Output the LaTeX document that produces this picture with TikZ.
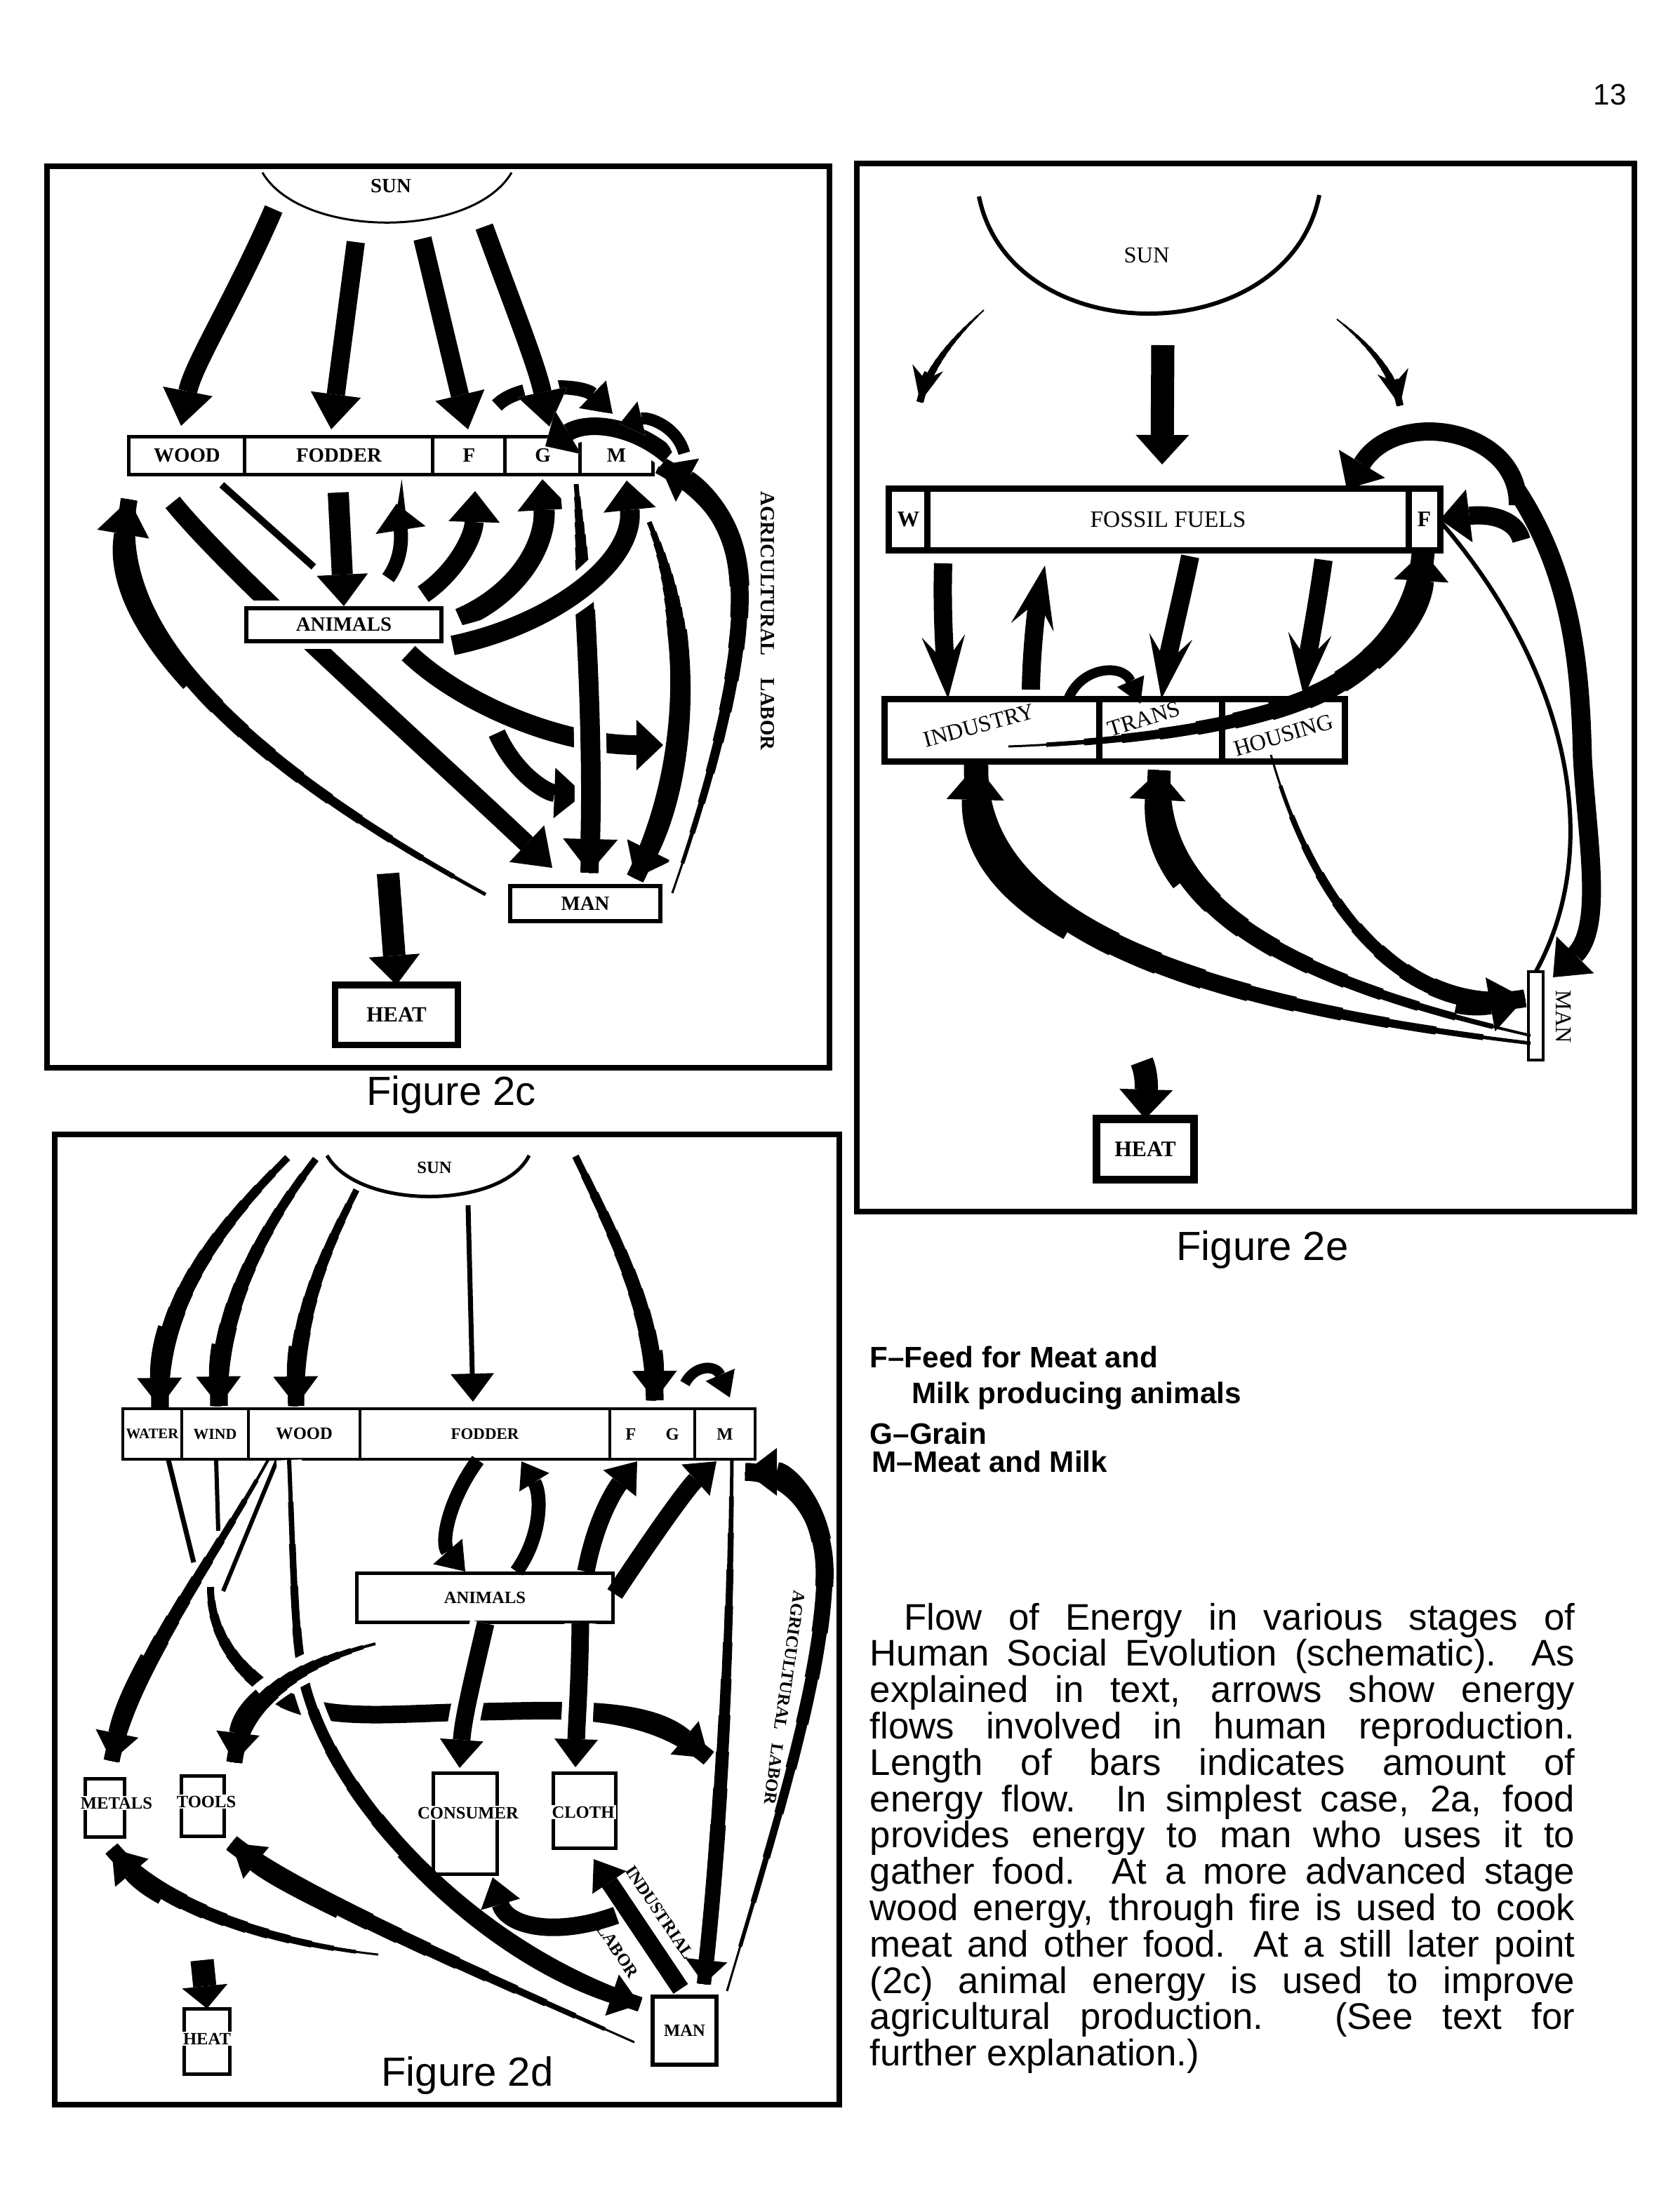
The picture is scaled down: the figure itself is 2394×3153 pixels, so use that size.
\documentclass[tikz,border=0pt]{standalone}
\usepackage{fontspec}
\setmainfont{Liberation Serif}
\newfontfamily\sansf{Liberation Sans}
\usetikzlibrary{arrows.meta}
\tikzset{
  fr/.style={draw, line width=0.08cm},
  cell/.style={draw, line width=0.05cm, inner sep=0pt, outer sep=0pt, fill=white},
  Lc/.style={font=\bfseries\fontsize{8.2}{9}\selectfont},
  Ld/.style={font=\bfseries\fontsize{7}{8}\selectfont},
  Le/.style={font=\fontsize{9.2}{10}\selectfont},
  tri/.style n args={3}{line width=#1, -{Triangle[width=#2,length=#3,line width=0pt]}},
  harps/.style={line width=#1, -{Stealth[width=0.45cm,length=0.5cm,inset=0.17cm,line width=0pt]}},
  harpb/.style={line width=#1, -{Stealth[width=0.62cm,length=0.9cm,inset=0.38cm,line width=0pt]}},
  tp/.style={dash pattern=on 0pt off #1 on 300cm},
  halo/.style={preaction={draw=white, line width=#1}},
}
% tapered stroke: #1 path macro, #2 start width, #3 end width (cm), #4 length of taper (cm), #5 tip style
\newcommand\taper[5]{%
  \foreach \ti in {0,...,9}{%
    \pgfmathsetmacro\tpw{#2+(#3-#2)*\ti/10}%
    \pgfmathsetmacro\tpo{#4*\ti/10}%
    \draw[line width=\tpw cm, tp=\tpo cm] #1;%
  }%
  \draw[#5, tp=#4cm] #1;%
}
% same with a white halo laid first (#6 = halo width)
\newcommand\taperh[6]{%
  \draw[white, line width=#6, shorten >=0.35cm] #1;%
  \taper{#1}{#2}{#3}{#4}{#5}%
}
\begin{document}
\begin{tikzpicture}[x=0.01cm,y=-0.01cm]
\useasboundingbox (0,0) rectangle (2394,3153);
\fill[white] (0,0) rectangle (2394,3153);
\node[font=\sansf\fontsize{12}{14}\selectfont] (pgnum) at (2294,135) {13};

% ================= FIGURE 2c =================
\draw[fr] (67,237) rectangle (1182,1522);
\draw[line width=0.03cm] (374,246) .. controls (430,341) and (673,341) .. (729,246);
\node[Lc] (sunc) at (557,265) {SUN};
\coordinate (c1s) at (390,298); \coordinate (c1e) at (258,607);
\coordinate (c2s) at (507,345); \coordinate (c2e) at (472,612);
\coordinate (c3s) at (602,340); \coordinate (c3e) at (667,612);
\coordinate (c4s) at (690,323); \coordinate (c4e) at (783,608);
\coordinate (c5s) at (708,578); \coordinate (c5e) at (873,590);
\draw[tri={0.2cm}{0.55cm}{0.4cm}] (c5s) .. controls (740,545) and (830,548) .. (c5e);
\draw[tri={0.27cm}{0.72cm}{0.5cm}] (c1s) .. controls (335,425) and (275,520) .. (c1e);
\draw[tri={0.26cm}{0.72cm}{0.5cm}] (c2s) -- (c2e);
\draw[tri={0.26cm}{0.72cm}{0.5cm}] (c3s) -- (c3e);
\draw[tri={0.26cm}{0.72cm}{0.5cm}, halo=0.5cm] (c4s) .. controls (725,420) and (765,520) .. (c4e);

\node[cell, minimum width=1.65cm, minimum height=0.54cm, Lc] (woodc) at (266.5,649) {WOOD};
\node[cell, minimum width=2.68cm, minimum height=0.54cm, Lc] (fodderc) at (483,649) {FODDER};
\node[cell, minimum width=1.03cm, minimum height=0.54cm, Lc] (fc) at (668.5,649) {F\hspace{0.1cm}};
\node[cell, minimum width=1.07cm, minimum height=0.54cm, Lc] (gc) at (773.5,649) {G\hspace{0.35cm}};
\node[cell, minimum width=1.03cm, minimum height=0.54cm, Lc] (mc) at (878.5,649) {\raisebox{-0.07cm}{M}\hspace{0.12cm}};

% wood -> man (behind animals)
\coordinate (c6s) at (246,716); \coordinate (c6e) at (787,1237);
\draw[tri={0.26cm}{0.72cm}{0.5cm}] (c6s) .. controls (330,820) and (600,1060) .. (c6e);
\coordinate (c7s) at (316,691); \coordinate (c7e) at (447,808);
\draw[line width=0.1cm] (c7s) -- (c7e);
\node[cell, line width=0.06cm, minimum width=2.78cm, minimum height=0.47cm, Lc, preaction={draw=white,line width=0.22cm}] (animc) at (490,890.5) {ANIMALS};

\coordinate (c8s) at (482,702); \coordinate (c8e) at (490,864);
\draw[tri={0.3cm}{0.73cm}{0.45cm}] (c8s) -- (c8e);
\coordinate (c9s) at (553,824); \coordinate (c9e) at (565,718);
\draw[tri={0.2cm}{0.72cm}{0.38cm}] (c9s) .. controls (578,790) and (570,750) .. (c9e);
\coordinate (c10s) at (603,847); \coordinate (c10e) at (677,700);
\draw[tri={0.27cm}{0.73cm}{0.44cm}] (c10s) .. controls (650,815) and (675,765) .. (c10e);
\coordinate (c11s) at (655,882); \coordinate (c11e) at (773,683);
\draw[tri={0.3cm}{0.76cm}{0.44cm}] (c11s) .. controls (740,845) and (778,775) .. (c11e);
% animals -> right
\coordinate (c15s) at (582,931); \coordinate (c15e) at (945,1062);
\draw[tri={0.28cm}{0.72cm}{0.38cm}] (c15s) .. controls (660,1005) and (800,1062) .. (c15e);
% small curved arrow
\coordinate (c16s) at (708,1045); \coordinate (c16e) at (832,1132);
\draw[tri={0.25cm}{0.72cm}{0.42cm}] (c16s) .. controls (735,1105) and (780,1130) .. (c16e);
% G -> MAN
\coordinate (c13s) at (821,690); \coordinate (c13e) at (840,1244);
\def\pcG{(c13s) .. controls (835,850) and (845,1050) .. (c13e)}
\taperh{\pcG}{0.07}{0.28}{1.8}{tri={0.28cm}{0.78cm}{0.48cm}}{0.46cm}
% animals -> M
\coordinate (c12s) at (645,920); \coordinate (c12e) at (893,685);
\draw[tri={0.28cm}{0.75cm}{0.42cm}, halo=0.5cm] (c12s) .. controls (790,890) and (905,800) .. (c12e);
% M -> MAN
\coordinate (c14s) at (925,744); \coordinate (c14e) at (905,1252);
\def\pcM{(c14s) .. controls (990,900) and (980,1100) .. (c14e)}
\taper{\pcM}{0.07}{0.28}{1.6}{tri={0.28cm}{0.7cm}{0.45cm}}
% MAN -> WOOD
\coordinate (c20s) at (692,1275); \coordinate (c20e) at (184,712);
\def\pcA{(c20s) .. controls (300,1060) and (155,880) .. (c20e)}
\taper{\pcA}{0.05}{0.26}{5.2}{tri={0.26cm}{0.75cm}{0.5cm}}
% agricultural labor
\coordinate (c21s) at (958,1273); \coordinate (c21e) at (940,663);
\def\pcB{(c21s) .. controls (1025,1080) and (1068,900) .. (1050,800) .. controls (1038,730) and (990,690) .. (c21e)}
\taperh{\pcB}{0.03}{0.28}{4.5}{tri={0.28cm}{0.7cm}{0.45cm}}{0.38cm}
% M -> G over the bar
\coordinate (c17s) at (953,650); \coordinate (c17e) at (777,636);
\draw[tri={0.25cm}{0.72cm}{0.38cm}, halo=0.4cm] (c17s) .. controls (905,608) and (840,598) .. (c17e);
\coordinate (c18s) at (975,646); \coordinate (c18e) at (883,604);
\draw[tri={0.17cm}{0.5cm}{0.32cm}, halo=0.32cm] (c18s) .. controls (965,608) and (925,594) .. (c18e);

\node[cell, line width=0.06cm, minimum width=2.14cm, minimum height=0.5cm, Lc] (manc) at (834,1288) {MAN};
\coordinate (c19s) at (553,1245);
\node[cell, line width=0.09cm, minimum width=1.74cm, minimum height=0.85cm, font=\bfseries\fontsize{8.8}{10}\selectfont] (heatc) at (565,1446.5) {HEAT};
\draw[tri={0.32cm}{0.73cm}{0.42cm}] (c19s) -- (heatc.north);
\node[Lc, rotate=-90] (aglc) at (1094,885) {AGRICULTURAL\hspace{1.1em}LABOR};
\node[font=\sansf\fontsize{16.5}{18}\selectfont] (capc) at (643,1560) {Figure 2c};

% ================= FIGURE 2e =================
\draw[fr] (1221,233) rectangle (2329,1727);
\draw[line width=0.06cm] (1395,280) .. controls (1440,503) and (1835,503) .. (1880,278);
\node[Le] (sune) at (1634,364) {SUN};
\coordinate (e1s) at (1402,442); \coordinate (e1e) at (1311,573);
\def\peL{(e1s) .. controls (1360,480) and (1322,525) .. (e1e)}
\taper{\peL}{0.02}{0.11}{1.2}{harps={0.11cm}}
\coordinate (e2s) at (1905,455); \coordinate (e2e) at (1995,578);
\def\peR{(e2s) .. controls (1950,490) and (1985,530) .. (e2e)}
\taper{\peR}{0.02}{0.11}{1.2}{harps={0.11cm}}
\coordinate (e3s) at (1657,492);

\node[cell, line width=0.09cm, minimum width=0.55cm, minimum height=0.87cm, font=\bfseries\fontsize{9}{10}\selectfont] (we) at (1294.5,740.5) {W};
\node[cell, line width=0.09cm, minimum width=6.85cm, minimum height=0.87cm, font=\fontsize{9.5}{10}\selectfont] (ffe) at (1664.5,740.5) {FOSSIL FUELS\hspace{0.54cm}};
\node[cell, line width=0.09cm, minimum width=0.45cm, minimum height=0.87cm, font=\bfseries\fontsize{9}{10}\selectfont] (fe) at (2029.5,740.5) {F};
\draw[tri={0.33cm}{0.76cm}{0.42cm}] (e3s) -- (1656,662);

\node[cell, line width=0.09cm, minimum width=3.06cm, minimum height=0.88cm] (inde) at (1414,1041) {};
\node[cell, line width=0.09cm, minimum width=1.75cm, minimum height=0.88cm] (trae) at (1654.5,1041) {};
\node[cell, line width=0.09cm, minimum width=1.74cm, minimum height=0.88cm] (houe) at (1829,1041) {};

\coordinate (f1s) at (1344,803); \coordinate (f1e) at (1351,996);
\draw[harpb={0.26cm}] (f1s) .. controls (1342,870) and (1346,930) .. (f1e);
\coordinate (f2s) at (1469,983); \coordinate (f2e) at (1489,806);
\draw[harpb={0.26cm}] (f2s) .. controls (1470,920) and (1478,860) .. (f2e);
\coordinate (f3s) at (1696,793); \coordinate (f3e) at (1655,996);
\draw[harpb={0.26cm}] (f3s) .. controls (1682,860) and (1665,930) .. (f3e);
\coordinate (f4s) at (1886,798); \coordinate (f4e) at (1858,993);
\draw[harpb={0.26cm}] (f4s) .. controls (1876,870) and (1864,930) .. (f4e);
\coordinate (f5s) at (1522,997); \coordinate (f5e) at (1625,1003);
\draw[tri={0.14cm}{0.42cm}{0.35cm}] (f5s) .. controls (1540,950) and (1600,945) .. (f5e);
% industry -> F (thin to thick)
\coordinate (f6s) at (1437,1064); \coordinate (f6e) at (2028,786);
\def\peA{(f6s) .. controls (1600,1058) and (1780,1036) .. (1880,988) .. controls (1960,950) and (2022,880) .. (f6e)}
\taper{\peA}{0.03}{0.36}{5.4}{tri={0.36cm}{0.78cm}{0.42cm}}
\node[Le, rotate=15] (indl) at (1395,1034) {INDUSTRY};
\node[Le, rotate=17] (tral) at (1630,1025) {TRANS};
\node[Le, rotate=16.5] (houl) at (1829,1048) {HOUSING};

\node[cell, line width=0.04cm, minimum width=0.21cm, minimum height=1.26cm] (mane) at (2188.5,1448) {};
\node[Le, rotate=-90] (manel) at (2228,1449) {MAN};
% MAN -> INDUSTRY
\coordinate (f7s) at (2181,1487); \coordinate (f7e) at (1391,1090);
\def\peB{(f7s) .. controls (1700,1430) and (1385,1320) .. (f7e)}
\taper{\peB}{0.05}{0.38}{6.8}{tri={0.38cm}{0.82cm}{0.5cm}}
% MAN -> TRANS
\coordinate (f8s) at (2181,1476); \coordinate (f8e) at (1652,1098);
\def\peC{(f8s) .. controls (1850,1400) and (1640,1300) .. (f8e)}
\taper{\peC}{0.04}{0.36}{5.5}{tri={0.36cm}{0.8cm}{0.42cm}}
% HOUSING -> MAN
\coordinate (f9s) at (1811,1076); \coordinate (f9e) at (2173,1423);
\def\peD{(f9s) .. controls (1880,1320) and (2020,1450) .. (f9e)}
\taper{\peD}{0.03}{0.28}{4.6}{tri={0.28cm}{0.78cm}{0.5cm}}
% F <-> MAN group
\coordinate (f10s) at (2162,700); \coordinate (f10e) at (2213,1393);
\draw[tri={0.27cm}{0.75cm}{0.45cm}] (f10s) .. controls (2240,820) and (2252,950) .. (2255,1080) .. controls (2262,1200) and (2285,1320) .. (f10e);
\coordinate (f11s) at (2168,770);
\draw[tri={0.26cm}{0.76cm}{0.42cm}] (f11s) .. controls (2160,738) and (2120,732) .. (fe.east);
\coordinate (f12s) at (2163,720); \coordinate (f12e) at (1919,697);
\draw[tri={0.26cm}{0.77cm}{0.42cm}] (f12s) .. controls (2165,610) and (1990,580) .. (f12e);
\coordinate (f13s) at (2054,745);
\draw[line width=0.06cm] (f13s) .. controls (2230,950) and (2290,1200) .. (mane.north);

\coordinate (f14s) at (1627,1513);
\node[cell, line width=0.11cm, minimum width=1.38cm, minimum height=0.86cm, font=\bfseries\fontsize{9}{10}\selectfont] (heate) at (1632,1638) {HEAT};
\draw[tri={0.33cm}{0.76cm}{0.42cm}] (f14s) .. controls (1636,1535) and (1633,1560) .. (heate.north);
\node[font=\sansf\fontsize{16.5}{18}\selectfont] (cape) at (1799,1781) {Figure 2e};

% ================= FIGURE 2d =================
\draw[fr] (78,1617) rectangle (1196,3000);
\draw[line width=0.05cm] (466,1647) .. controls (510,1725) and (715,1725) .. (754,1647);
\node[Ld] (sund) at (619,1664) {SUN};
\coordinate (d1s) at (410,1650); \coordinate (d1e) at (228,2006);
\def\pdA{(d1s) .. controls (280,1780) and (226,1880) .. (d1e)}
\taper{\pdA}{0.1}{0.27}{3}{tri={0.27cm}{0.64cm}{0.42cm}}
\coordinate (d2s) at (450,1652); \coordinate (d2e) at (312,2004);
\def\pdB{(d2s) .. controls (360,1770) and (310,1880) .. (d2e)}
\taper{\pdB}{0.1}{0.27}{3}{tri={0.27cm}{0.64cm}{0.42cm}}
\coordinate (d3s) at (508,1696); \coordinate (d3e) at (422,2004);
\def\pdC{(d3s) .. controls (460,1790) and (420,1880) .. (d3e)}
\taper{\pdC}{0.09}{0.25}{2.4}{tri={0.25cm}{0.64cm}{0.42cm}}
\coordinate (d4s) at (667,1718); \coordinate (d4e) at (674,1998);
\draw[tri={0.07cm}{0.62cm}{0.4cm}] (d4s) -- (d4e);
\coordinate (d5s) at (820,1648); \coordinate (d5e) at (933,1996);
\def\pdD{(d5s) .. controls (890,1790) and (932,1880) .. (d5e)}
\taper{\pdD}{0.1}{0.27}{3}{tri={0.27cm}{0.64cm}{0.42cm}}
\coordinate (d6s) at (976,1972); \coordinate (d6e) at (1040,1992);
\draw[tri={0.15cm}{0.45cm}{0.35cm}] (d6s) .. controls (990,1945) and (1020,1945) .. (d6e);

\node[cell, line width=0.04cm, minimum width=0.84cm, minimum height=0.72cm, font=\bfseries\fontsize{5.9}{7}\selectfont] (waterd) at (217,2044) {WATER};
\node[cell, line width=0.04cm, minimum width=0.95cm, minimum height=0.72cm, font=\bfseries\fontsize{6.2}{7}\selectfont] (windd) at (306.5,2044) {WIND};
\node[cell, line width=0.04cm, minimum width=1.59cm, minimum height=0.72cm, Ld] (woodd) at (433.5,2044) {WOOD};
\node[cell, line width=0.04cm, minimum width=3.56cm, minimum height=0.72cm, font=\bfseries\fontsize{6.5}{7}\selectfont] (fodderd) at (691,2044) {FODDER};
\node[cell, line width=0.04cm, minimum width=1.21cm, minimum height=0.72cm, Ld] (fgd) at (929.5,2044) {F\hspace{12pt}G};
\node[cell, line width=0.04cm, minimum width=0.86cm, minimum height=0.72cm, Ld] (md) at (1033,2044) {M};

% lines from the left of the bar
\coordinate (d7s) at (240,2081); \coordinate (d7e) at (276,2227);
\draw[line width=0.07cm] (d7s) -- (d7e);
\coordinate (d8s) at (308,2081); \coordinate (d8e) at (311,2182);
\draw[line width=0.06cm] (d8s) -- (d8e);
\coordinate (d9s) at (395,2081); \coordinate (d9e) at (318,2268);
\draw[line width=0.06cm] (d9s) -- (d9e);
\coordinate (d10s) at (300,2262); \coordinate (d10e) at (1010,2506);
\def\pdH{(d10s) .. controls (300,2330) and (340,2385) .. (400,2420) .. controls (470,2455) and (560,2442) .. (680,2440) .. controls (800,2438) and (920,2430) .. (d10e)}
\taper{\pdH}{0.1}{0.25}{2}{tri={0.25cm}{0.62cm}{0.45cm}}
% wood -> metals
\coordinate (d11s) at (382,2081); \coordinate (d11e) at (159,2510);
\def\pdG{(d11s) .. controls (300,2230) and (185,2380) .. (d11e)}
\taper{\pdG}{0.04}{0.25}{3.3}{tri={0.25cm}{0.62cm}{0.4cm}}
% wood -> man
\coordinate (d12s) at (412,2081); \coordinate (d12e) at (912,2857);
\def\pdI{(d12s) .. controls (420,2280) and (420,2360) .. (440,2420) .. controls (490,2580) and (680,2780) .. (d12e)}
\taperh{\pdI}{0.06}{0.23}{6}{tri={0.23cm}{0.62cm}{0.42cm}}{0.36cm}

\node[cell, line width=0.05cm, minimum width=3.64cm, minimum height=0.7cm, Ld] (animd) at (691,2277) {ANIMALS};
\coordinate (d13s) at (681,2081); \coordinate (d13e) at (663,2240);
\draw[tri={0.2cm}{0.55cm}{0.38cm}] (d13s) .. controls (638,2140) and (628,2200) .. (d13e);
\coordinate (d14s) at (736,2240); \coordinate (d14e) at (743,2083);
\draw[tri={0.2cm}{0.5cm}{0.35cm}] (d14s) .. controls (772,2190) and (772,2130) .. (d14e);
\coordinate (d15s) at (835,2240); \coordinate (d15e) at (908,2083);
\draw[tri={0.25cm}{0.6cm}{0.4cm}] (d15s) .. controls (850,2160) and (880,2118) .. (d15e);
\coordinate (d16s) at (876,2272); \coordinate (d16e) at (1021,2083);
\draw[tri={0.25cm}{0.6cm}{0.4cm}] (d16s) .. controls (930,2190) and (980,2120) .. (d16e);

% animals -> tools
\coordinate (d17s) at (535,2343); \coordinate (d17e) at (334,2512);
\def\pdJ{(d17s) .. controls (430,2370) and (345,2420) .. (d17e)}
\taperh{\pdJ}{0.04}{0.25}{1.8}{tri={0.25cm}{0.62cm}{0.42cm}}{0.4cm}
% animals -> consumer, cloth
\coordinate (d18s) at (692,2314); \coordinate (d18e) at (655,2520);
\draw[tri={0.25cm}{0.62cm}{0.4cm}, halo=0.45cm] (d18s) .. controls (672,2400) and (660,2450) .. (d18e);
\coordinate (d19s) at (827,2314); \coordinate (d19e) at (820,2519);
\draw[tri={0.25cm}{0.62cm}{0.4cm}, halo=0.45cm] (d19s) .. controls (826,2400) and (822,2450) .. (d19e);

% agricultural labor 2d
\coordinate (d20s) at (1036,2838); \coordinate (d20e) at (1062,2098);
\def\pdE{(d20s) .. controls (1100,2620) and (1170,2400) .. (1175,2250) .. controls (1178,2150) and (1120,2098) .. (d20e)}
\taper{\pdE}{0.03}{0.28}{6.6}{tri={0.28cm}{0.68cm}{0.45cm}}
\node[Ld, rotate=-98] (agld) at (1118,2420) {AGRICULTURAL\hspace{0.8em}LABOR};
% M -> MAN
\coordinate (d21s) at (1043,2081); \coordinate (d21e) at (1003,2828);
\def\pdF{(d21s) .. controls (1040,2400) and (1022,2650) .. (d21e)}
\taper{\pdF}{0.05}{0.22}{5.2}{tri={0.22cm}{0.6cm}{0.34cm}}

% boxes
\node[cell, fill=none, line width=0.05cm, minimum width=0.55cm, minimum height=0.83cm] (metd) at (149.5,2576.5) {};
\node[Ld, fill=white, inner sep=0.6pt] (metl) at (166,2570) {METALS};
\node[cell, fill=none, line width=0.05cm, minimum width=0.6cm, minimum height=0.86cm] (tood) at (289,2574) {};
\node[Ld, fill=white, inner sep=0.6pt] (tool) at (294,2568) {TOOLS};
\node[cell, fill=none, line width=0.05cm, minimum width=0.9cm, minimum height=1.43cm] (cond) at (663,2599.5) {};
\node[Ld, fill=white, inner sep=0.6pt] (conl) at (667,2584) {CONSUMER};
\node[cell, fill=none, line width=0.05cm, minimum width=0.88cm, minimum height=1.07cm] (clod) at (833,2580.5) {};
\node[Ld, fill=white, inner sep=0.6pt] (clol) at (831,2583) {CLOTH};
\node[cell, fill=none, line width=0.05cm, minimum width=0.64cm, minimum height=0.93cm] (heatd) at (295,2909.5) {};
\node[Ld, fill=white, inner sep=0.6pt] (heatl) at (295,2906) {HEAT};
\node[cell, line width=0.06cm, minimum width=0.91cm, minimum height=0.97cm, Ld] (mand) at (975.5,2894.5) {MAN};
\coordinate (d22s) at (288,2794);
\draw[tri={0.33cm}{0.65cm}{0.32cm}] (d22s) -- (heatd.north);

% man -> metals, man -> tools
\coordinate (d23s) at (539,2786); \coordinate (d23e) at (159,2635);
\def\pdK{(d23s) .. controls (390,2770) and (230,2720) .. (d23e)}
\taper{\pdK}{0.03}{0.25}{3.2}{tri={0.25cm}{0.62cm}{0.45cm}}
\coordinate (d24s) at (904,2911); \coordinate (d24e) at (330,2627);
\def\pdL{(d24s) .. controls (700,2820) and (420,2700) .. (d24e)}
\taper{\pdL}{0.03}{0.27}{4.6}{tri={0.27cm}{0.58cm}{0.45cm}}
% industrial labor
\coordinate (d25s) at (970,2835); \coordinate (d25e) at (846,2650);
\draw[tri={0.25cm}{0.58cm}{0.4cm}] (d25s) -- (d25e);
\coordinate (d26s) at (878,2730); \coordinate (d26e) at (702,2676);
\draw[tri={0.25cm}{0.58cm}{0.4cm}] (d26s) .. controls (790,2762) and (722,2745) .. (d26e);
\node[Ld, rotate=-56] (indd) at (940,2726) {INDUSTRIAL};
\node[Ld, rotate=-56] (labd) at (880,2780) {LABOR};
\node[font=\sansf\fontsize{16.5}{18}\selectfont] (capd) at (666,2958) {Figure 2d};

% ================= TEXT =================
\node[anchor=base west, inner sep=0pt, font=\sansf\bfseries\fontsize{12}{14}\selectfont] (lg1) at (1239,1949) {F–Feed for Meat and};
\node[anchor=base west, inner sep=0pt, font=\sansf\bfseries\fontsize{12}{14}\selectfont] (lg2) at (1299,2000) {Milk producing animals};
\node[anchor=base west, inner sep=0pt, font=\sansf\bfseries\fontsize{12}{14}\selectfont] (lg3) at (1239,2058) {G–Grain};
\node[anchor=base west, inner sep=0pt, font=\sansf\bfseries\fontsize{12}{14}\selectfont] (lg4) at (1242,2098) {M–Meat and Milk};

\tikzset{bt/.style={anchor=base west, inner sep=0pt, font=\sansf\fontsize{15}{15}\selectfont}}
\node[bt] (t1) at (1288,2323) {\makebox[9.55cm][s]{Flow of Energy in various stages of}};
\node[bt] (t2) at (1239,2374.8) {\makebox[10.04cm][s]{Human Social Evolution (schematic). As}};
\node[bt] (t3) at (1239,2426.6) {\makebox[10.04cm][s]{explained in text, arrows show energy}};
\node[bt] (t4) at (1239,2478.4) {\makebox[10.04cm][s]{flows involved in human reproduction.}};
\node[bt] (t5) at (1239,2530.2) {\makebox[10.04cm][s]{Length of bars indicates amount of}};
\node[bt] (t6) at (1239,2582) {\makebox[10.04cm][s]{energy flow. In simplest case, 2a, food}};
\node[bt] (t7) at (1239,2633.8) {\makebox[10.04cm][s]{provides energy to man who uses it to}};
\node[bt] (t8) at (1239,2685.6) {\makebox[10.04cm][s]{gather food. At a more advanced stage}};
\node[bt] (t9) at (1239,2737.4) {\makebox[10.04cm][s]{wood energy, through fire is used to cook}};
\node[bt] (t10) at (1239,2789.2) {\makebox[10.04cm][s]{meat and other food. At a still later point}};
\node[bt] (t11) at (1239,2841) {\makebox[10.04cm][s]{(2c) animal energy is used to improve}};
\node[bt] (t12) at (1239,2892.8) {\makebox[10.04cm][s]{agricultural production. (See text for}};
\node[bt] (t13) at (1239,2944.6) {further explanation.)};
\end{tikzpicture}
\end{document}
